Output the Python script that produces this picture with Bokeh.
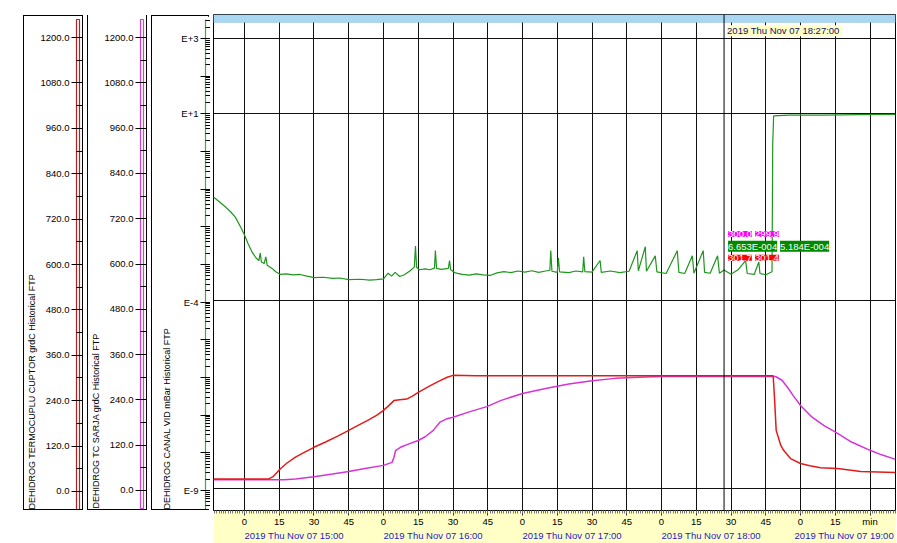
from bokeh.plotting import figure
from bokeh.models import (Range1d, LinearScale, LinearAxis, FixedTicker, CustomJSTickFormatter,
                          BoxAnnotation, Span, Label, Grid, Title)
from bokeh.layouts import row
from bokeh.embed import file_html
from bokeh.resources import INLINE

FONT = "Liberation Sans"

# ---------------- data (time in minutes after 2019 Thu Nov 07 15:00) ----------------
vac_t = [-13.4, -11, -8.2, -6, -3.9, -1.5, 0.1, 1.5, 3.3, 5, 6.2, 6.8, 7.3, 8.5, 9.2, 9.8,
         11.9, 13.5, 15.5, 18, 21, 24, 27, 30, 34, 38, 41, 45, 50, 54, 57, 60, 62, 63.5, 65,
         67, 69, 71.5, 73.3, 73.8, 74.3, 75.5, 78, 80, 82, 82.4, 82.9, 85, 88, 88.5, 89, 91,
         94, 97, 100, 103, 106, 109, 112, 115, 118, 121, 124, 127, 130, 131.8, 132.2, 132.7,
         135, 135.5, 136, 140, 143, 146, 146.4, 146.9, 150, 153.5, 154, 158, 162, 166, 169.5,
         170, 173, 173.5, 177.3, 178, 182, 186.8, 187.5, 190, 193.3, 194, 198, 198.6, 201,
         204.2, 205, 207, 210, 213, 216.3, 217, 220, 222, 222.5, 225, 227.7, 228.0, 228.4,
         235, 250, 265, 281]
vac_mbar = [0.059, 0.045, 0.032, 0.024, 0.017, 0.009, 0.0056, 0.0034, 0.0020, 0.0014, 0.0012,
            0.0019, 0.0011, 0.0010, 0.0015, 0.0009, 0.00074, 0.00060, 0.00051, 0.00053, 0.00050,
            0.00051, 0.00046, 0.00042, 0.00043, 0.00040, 0.00041, 0.00037, 0.00038, 0.00036,
            0.00037, 0.00039, 0.00055, 0.00046, 0.00058, 0.00045, 0.00050, 0.00064, 0.00080,
            0.0029, 0.00078, 0.00068, 0.00072, 0.00068, 0.00075, 0.0022, 0.00074, 0.00070,
            0.00074, 0.0012, 0.00068, 0.00056, 0.00051, 0.00049, 0.00053, 0.00050, 0.00048,
            0.00056, 0.00061, 0.00057, 0.00063, 0.00059, 0.00064, 0.00058, 0.00063, 0.00066,
            0.0022, 0.00062, 0.00058, 0.0014, 0.00060, 0.00057, 0.00063, 0.00060, 0.0015,
            0.00061, 0.00059, 0.0012, 0.00058, 0.00063, 0.00057, 0.00062, 0.0022, 0.00064,
            0.0028, 0.00062, 0.0016, 0.00060, 0.00054, 0.0022, 0.00058, 0.00054, 0.0016,
            0.00055, 0.0022, 0.00058, 0.00055, 0.0016, 0.00055, 0.00067, 0.00052, 0.00068,
            0.0012, 0.00054, 0.00051, 0.0011, 0.00054, 0.00050, 0.00060, 1.5, 8.6, 9.0, 9.1,
            9.3, 9.5]

cuptor_t = [-13.4, 10.5, 12.5, 15.5, 18.5, 22, 26, 30, 35, 40, 45, 49, 53, 57, 60, 62.5, 64.5,
            67, 70, 72.5, 75, 80, 84.4, 87.5, 90, 100, 130, 160, 190, 220, 228.2, 228.8, 229.5,
            231.5, 232.7, 235.7, 240, 244, 248.6, 256, 266, 281]
cuptor_c = [28, 28, 35, 55, 71, 86, 99, 112, 126, 141, 157, 170, 183, 197, 210, 224, 236, 238,
            240, 248, 258, 275, 289, 298, 303, 302, 302, 302, 302, 302, 302, 240, 157, 117, 104,
            82, 69, 63, 58, 56, 48, 45]

sarja_t = [-13.4, 17, 22, 30, 38, 45, 52, 60, 63.7, 64.5, 65.2, 67.3, 71, 75, 78, 81.5, 84.4,
           87, 90, 97, 104.6, 110.5, 120, 130, 140, 150, 160, 170, 180, 190, 229.2, 232, 234.3,
           237, 240, 245, 250, 256, 262, 270, 275, 281]
sarja_c = [26, 26, 28, 34, 41, 48, 56, 64, 72, 85, 103, 112, 121, 130, 140, 157, 179, 187, 192,
           206, 220, 236, 255, 268, 280, 289, 295, 298, 300, 300, 300, 290, 272, 248, 223, 192,
           170, 149, 126, 104, 92, 80]

# ---------------- axes / labels ----------------
temp_ticks = [0, 120, 240, 360, 480, 600, 720, 840, 960, 1080, 1200]
temp_minor = [60, 180, 300, 420, 540, 660, 780, 900, 1020, 1140]
temp_labels = ["0.0", "120.0", "240.0", "360.0", "480.0", "600.0", "720.0", "840.0",
               "960.0", "1080.0", "1200.0"]
vac_decades = [10.0 ** e for e in range(-9, 4)]
vac_minor = [k * 10.0 ** e for e in range(-10, 4) for k in range(2, 10)]
vac_label_ticks = [1e3, 1e1, 1e-4, 1e-9]
vac_labels = ["E+3", "E+1", "E-4", "E-9"]

minute_ticks = list(range(0, 271, 15))
minute_labels = ["0", "15", "30", "45"] * 4 + ["0", "15", "min"]
minute_minor = list(range(-13, 282))
hour_ticks = [0, 60, 120, 180, 240]
date_labels = ["2019 Thu Nov 07  15:00", "2019 Thu Nov 07  16:00", "2019 Thu Nov 07  17:00",
               "2019 Thu Nov 07  18:00", "2019 Thu Nov 07  19:00"]

axis_titles = ["DEHIDROG TERMOCUPLU CUPTOR  grdC Historical FTP",
               "DEHIDROG TC SARJA grdC Historical FTP",
               "DEHIDROG CANAL VID mBar Historical FTP"]

cursor_time = 207
cursor_text = "2019 Thu Nov 07  18:27:00"
readout_sarja = ["300.0", "299.9"]
readout_vac = ["6.653E-004", "5.184E-004"]
readout_cuptor = ["301.7", "301.4"]

# ---------------- layout constants ----------------
C_RED = "#e41a1a"
C_MAG = "#d633d6"
C_GRN = "#1e961e"
YELLOW = "#ffffc6"
BLUE_BAND = "#a9d7f2"
DATE_BLUE = "#1c1cc8"

FRAME_H = 496
FRAME_W = 682
PANEL_H = 495
TEMP_PANEL_RANGE = (-47.8, 1247.8)
TEMP_MAIN_RANGE = (-55.8, 1261.1)
VAC_PANEL_RANGE = (10 ** -9.507, 10 ** 3.507)
VAC_MAIN_RANGE = (10 ** -9.587, 10 ** 3.64)
X_RANGE = (-13.38, 281.0)
DATE_SHIFT = 22


def labeller(tvals, tlabels, log=False):
    return CustomJSTickFormatter(args=dict(tvals=tvals, tlabels=tlabels, uselog=log), code="""
        const f = (v) => uselog ? Math.log10(v) : v;
        let best = -1, bd = Infinity;
        for (let i = 0; i < tvals.length; i++) {
            const d = Math.abs(f(tvals[i]) - f(tick));
            if (d < bd) { bd = d; best = i; }
        }
        return (best >= 0 && bd < 1e-3) ? tlabels[best] : "";
    """)


def make_panel(width, left, rng, log, color, title, ticks, minor, lticks, labels, standoff,
               top_border=True):
    css = {"border": "1px solid black"}
    if not top_border:
        css["border-top"] = "0px"
    p = figure(width=width, height=PANEL_H, x_range=Range1d(0, 1), y_range=Range1d(*rng),
               y_axis_type="log" if log else "linear", x_axis_location=None,
               toolbar_location=None, output_backend="svg", frame_align=False,
               min_border_left=left, min_border_right=5,
               min_border_top=3 if top_border else 4, min_border_bottom=2,
               outline_line_color=color, outline_line_width=1.2,
               background_fill_color="white", border_fill_color="white", styles=css)
    p.grid.visible = False
    ax = p.yaxis[0]
    ax.ticker = FixedTicker(ticks=ticks, minor_ticks=minor)
    ax.formatter = labeller(lticks, labels, log)
    ax.major_label_text_font = FONT
    ax.major_label_text_font_size = "9.5px"
    ax.major_label_text_color = "black"
    ax.major_label_standoff = 2
    ax.axis_line_color = None
    ax.major_tick_line_color = "black"
    ax.minor_tick_line_color = "black"
    ax.major_tick_out = 5
    ax.major_tick_in = 6
    ax.minor_tick_out = 0
    ax.minor_tick_in = 6
    p.add_layout(Title(text=title, align="left", text_font=FONT, text_font_size="9px",
                       text_font_style="normal", text_color="black", standoff=standoff),
                 "left")
    return p


p1 = make_panel(60, 48, TEMP_PANEL_RANGE, False, "#b52020", axis_titles[0],
                temp_ticks, temp_minor, temp_ticks, temp_labels, 1)
p2 = make_panel(60, 48, TEMP_PANEL_RANGE, False, "#d040d0", axis_titles[1],
                temp_ticks, temp_minor, temp_ticks, temp_labels, 1, top_border=False)
p3 = make_panel(58, 47, VAC_PANEL_RANGE, True, "#3cae3c", axis_titles[2],
                vac_decades, vac_minor, vac_label_ticks, vac_labels, 14)
p1.margin = (15, 0, 0, 23)
p2.margin = (15, 0, 0, 0)
p3.margin = (15, 0, 0, 0)

main = figure(frame_width=FRAME_W, frame_height=FRAME_H, x_range=Range1d(*X_RANGE),
              y_range=Range1d(*VAC_MAIN_RANGE), y_axis_type="log", y_axis_location=None,
              toolbar_location=None, output_backend="svg", frame_align=False,
              min_border_left=0, min_border_right=1, min_border_top=0, min_border_bottom=0,
              outline_line_color="black", border_fill_color=YELLOW,
              background_fill_color="white")
main.margin = (14, 0, 0, 0)
main.extra_y_ranges = {"temp": Range1d(*TEMP_MAIN_RANGE)}
main.extra_y_scales = {"temp": LinearScale()}

# keep only the vertical (time) grid from the defaults; add the decade grid lines
main.center = [r for r in main.center if not (isinstance(r, Grid) and r.dimension == 1)]
main.xgrid.ticker = FixedTicker(ticks=minute_ticks)
main.xgrid.grid_line_color = "#111111"
main.xgrid.grid_line_alpha = 1.0
main.add_layout(Grid(dimension=1, ticker=FixedTicker(ticks=vac_label_ticks),
                     grid_line_color="#111111", grid_line_alpha=1.0))

xa = main.xaxis[0]
xa.ticker = FixedTicker(ticks=minute_ticks, minor_ticks=minute_minor)
xa.formatter = labeller(minute_ticks, minute_labels)
xa.major_label_text_font = FONT
xa.major_label_text_font_size = "9.5px"
xa.major_label_text_color = "black"
xa.major_label_standoff = 0
xa.axis_line_color = "black"
xa.major_tick_in = 0
xa.major_tick_out = 5
xa.minor_tick_in = 0
xa.minor_tick_out = 3
xa.major_tick_line_color = "#333333"
xa.minor_tick_line_color = "#777777"

date_ticks = [h + DATE_SHIFT for h in hour_ticks]
da = LinearAxis(ticker=FixedTicker(ticks=date_ticks, minor_ticks=[]),
                formatter=labeller(date_ticks, date_labels))
da.axis_line_color = None
da.major_tick_line_color = None
da.minor_tick_line_color = None
da.major_tick_out = 0
da.major_tick_in = 0
da.major_label_standoff = 0
da.major_label_text_font = FONT
da.major_label_text_font_size = "9.5px"
da.major_label_text_color = DATE_BLUE
main.add_layout(da, "below")

# traces
main.line(vac_t, vac_mbar, line_color=C_GRN, line_width=1.2)
main.line(sarja_t, sarja_c, y_range_name="temp", line_color=C_MAG, line_width=1.5)
main.line(cuptor_t, cuptor_c, y_range_name="temp", line_color=C_RED, line_width=1.5)

# top band and cursor
main.add_layout(BoxAnnotation(bottom=1239.8, y_range_name="temp", fill_color=BLUE_BAND,
                              fill_alpha=1.0, line_color="#6b9cc0", line_width=1))
main.add_layout(Span(location=cursor_time, dimension="height", line_color="black",
                     line_width=1))
main.add_layout(Label(x=cursor_time, y=1218, y_range_name="temp", x_offset=3,
                      text=cursor_text, text_font=FONT, text_font_size="9.5px",
                      text_color="#101070", text_baseline="middle",
                      background_fill_color=YELLOW, background_fill_alpha=1.0))

rows = [(readout_sarja, "#ff00ff", 678), (readout_vac, "#008a00", 646),
        (readout_cuptor, "#ff0000", 615)]
for texts, bg, ypos in rows:
    xoff = 4
    for txt in texts:
        main.add_layout(Label(x=cursor_time, y=ypos, y_range_name="temp", x_offset=xoff,
                              text=txt, text_font=FONT, text_font_size="9.5px",
                              text_color="white", text_baseline="middle",
                              background_fill_color=bg, background_fill_alpha=1.0))
        xoff += 27 if len(txt) < 7 else 52

layout = row(p1, p2, p3, main, spacing=4)
open("out.html", "w").write(file_html(layout, INLINE))
